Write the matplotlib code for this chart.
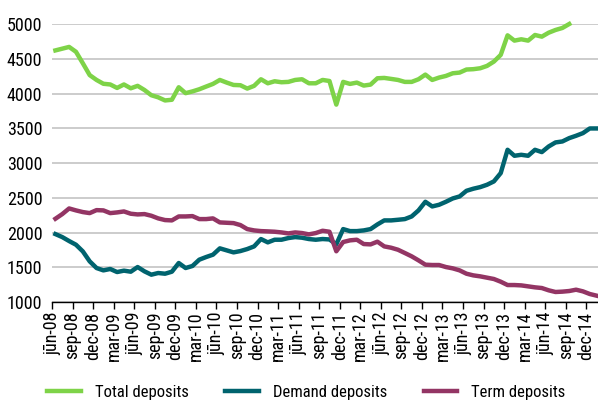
import matplotlib
matplotlib.use("Agg")
import matplotlib.pyplot as plt
from matplotlib import font_manager as fm
import numpy as np

tick_labels = ["jūn-08", "sep-08", "dec-08", "mar-09", "jūn-09", "sep-09", "dec-09",
               "mar-10", "jūn-10", "sep-10", "dec-10", "mar-11", "jūn-11", "sep-11",
               "dec-11", "mar-12", "jūn-12", "sep-12", "dec-12", "mar-13", "jūn-13",
               "sep-13", "dec-13", "mar-14", "jūn-14", "sep-14", "dec-14"]

total = [4620, 4645, 4670, 4600, 4435, 4265, 4195, 4140, 4130, 4080,
         4130, 4075, 4110, 4050, 3975, 3945, 3900, 3910, 4090, 4005,
         4030, 4061, 4100, 4138, 4195, 4157, 4123, 4119, 4071, 4110,
         4205, 4147, 4176, 4162, 4167, 4195, 4205, 4147, 4147, 4195,
         4180, 3840, 4167, 4138, 4157, 4114, 4128, 4219, 4224, 4210,
         4195, 4167, 4167, 4205, 4272, 4195, 4229, 4253, 4291, 4301,
         4345, 4350, 4363, 4397, 4459, 4555, 4837, 4761, 4780, 4761,
         4842, 4818, 4875, 4914, 4943, 5000]

demand = [1977, 1934, 1877, 1824, 1728, 1585, 1489, 1455, 1475, 1431,
          1451, 1436, 1503, 1441, 1393, 1417, 1407, 1436, 1561, 1489,
          1518, 1609, 1647, 1681, 1772, 1743, 1714, 1733, 1762, 1800,
          1906, 1858, 1896, 1896, 1920, 1934, 1925, 1906, 1896, 1906,
          1900, 1830, 2049, 2020, 2020, 2030, 2049, 2116, 2174, 2174,
          2183, 2193, 2231, 2318, 2442, 2375, 2399, 2442, 2490, 2519,
          2600, 2630, 2653, 2687, 2735, 2855, 3190, 3104, 3118, 3104,
          3190, 3157, 3238, 3296, 3310, 3358, 3392, 3430, 3497, 3497]

term = [2198, 2265, 2346, 2318, 2294, 2279, 2322, 2318, 2279, 2289,
        2303, 2270, 2260, 2265, 2241, 2203, 2179, 2174, 2231, 2231,
        2236, 2193, 2193, 2203, 2145, 2140, 2135, 2107, 2049, 2030,
        2020, 2016, 2011, 2001, 1987, 2001, 1992, 1973, 1992, 2025,
        2011, 1730, 1863, 1887, 1896, 1834, 1829, 1868, 1800, 1781,
        1752, 1705, 1657, 1599, 1537, 1532, 1532, 1503, 1484, 1455,
        1407, 1383, 1369, 1350, 1331, 1292, 1244, 1244, 1239, 1225,
        1211, 1201, 1168, 1144, 1149, 1158, 1177, 1153, 1115, 1091]

# choose a condensed font if available
installed = {f.name for f in fm.fontManager.ttflist}
prefs = [("Liberation Sans Narrow", (13, 13, 12.5)),
         ("Roboto Condensed", (13, 13, 12)),
         ("Open Sans Condensed", (13, 13, 12)),
         ("DejaVu Sans Condensed", (11.5, 10.5, 11.5)),
         ("Liberation Sans", (11.3, 9.8, 10.8))]
family, sizes = "DejaVu Sans", (10, 8.5, 9.5)
for name, sz in prefs:
    if name in installed:
        family, sizes = name, sz
        break
plt.rcParams['font.family'] = [family, 'DejaVu Sans']
ysize, xsize, lsize = sizes

c_total = "#7ED348"
c_demand = "#00636E"
c_term = "#933564"

fig = plt.figure(figsize=(5.98, 4.03), dpi=100)
ax = fig.add_axes([52/598, 101/403, 546/598, 278/403])

x_t = np.arange(len(total)) + 0.5
x_d = np.arange(len(demand)) + 0.5
x_m = np.arange(len(term)) + 0.5

ax.plot(x_t, total, color=c_total, lw=3.2, label="Total deposits", clip_on=False, solid_joinstyle='round')
ax.plot(x_d, demand, color=c_demand, lw=3.2, label="Demand deposits", clip_on=False, solid_joinstyle='round')
ax.plot(x_m, term, color=c_term, lw=3.2, label="Term deposits", clip_on=False, solid_joinstyle='round')

ax.set_xlim(0, 79.7)
ax.set_ylim(1000, 5000)
ax.set_yticks(np.arange(1000, 5001, 500))
ax.tick_params(axis='y', length=0, pad=7, labelsize=ysize)
ax.set_xticks(np.arange(0, 3 * len(tick_labels), 3))
ax.set_xticklabels(tick_labels, rotation=90, fontsize=xsize)
ax.tick_params(axis='x', length=5, width=1, direction='out', pad=2, color='black')

ax.yaxis.grid(True, color="#C8C8C8", lw=1.3)
ax.set_axisbelow(True)
for s in ['top', 'right', 'left']:
    ax.spines[s].set_visible(False)
ax.spines['bottom'].set_color('black')
ax.spines['bottom'].set_linewidth(1)

fig.legend(loc='center', bbox_to_anchor=(0.5125, 0.027), ncol=3, frameon=False,
           fontsize=lsize, handlelength=2.0, handletextpad=0.85, columnspacing=2.2)

fig.savefig("out.png", dpi=100)
